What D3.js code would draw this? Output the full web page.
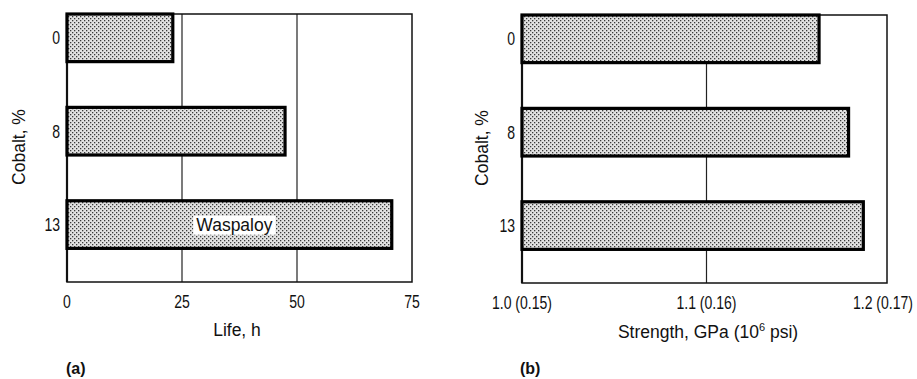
<!DOCTYPE html>
<html><head><meta charset="utf-8">
<script src="https://cdn.jsdelivr.net/npm/d3@7"></script>
<style>
html,body{margin:0;padding:0;background:#fff;}
svg{display:block;}
.tick-lbl{font-family:"Liberation Sans",Arial,Helvetica,sans-serif;font-size:18px;fill:#111;}
.title{font-family:"Liberation Sans",Arial,Helvetica,sans-serif;font-size:17.5px;fill:#111;}
.panel{font-family:"Liberation Sans",Arial,sans-serif;font-size:16px;font-weight:bold;fill:#111;}
</style></head>
<body>
<svg id="chart" width="917" height="379"></svg>
<script>
// ---- data ----
const categories = ["0", "8", "13"];
const lifeHours = [23.0, 47.4, 70.6];
const strengthGPa = [1.161, 1.177, 1.185];
const lifeTicks = [0, 25, 50, 75];
const lifeGrid = [25, 50];
const strengthTicks = [1.0, 1.1, 1.2];
const strengthTickLabels = ["1.0 (0.15)", "1.1 (0.16)", "1.2 (0.17)"];
const strengthGrid = [1.1];
const yTitle = "Cobalt, %";
const lifeTitle = "Life, h";
const barNote = "Waspaloy";

const W = 917;
const svg = d3.select("#chart");
const defs = svg.append("defs");
const pat = defs.append("pattern").attr("id", "stipple")
  .attr("patternUnits", "userSpaceOnUse").attr("width", 4).attr("height", 4);
pat.append("rect").attr("width", 4).attr("height", 4).attr("fill", "#e2e2e2");
pat.append("rect").attr("x", 0).attr("y", 0).attr("width", 1.3).attr("height", 1.3).attr("fill", "#3a3a3a");
pat.append("rect").attr("x", 2).attr("y", 2).attr("width", 1.3).attr("height", 1.3).attr("fill", "#3a3a3a");

const SX = 0.78; // condensed tick labels

function condensed(sel, ax, ay) {
  sel.attr("transform", (d, i) => `translate(${ax(d, i)},${ay(d, i)}) scale(${SX},1)`);
}

function panel(opt) {
  const g = svg.append("g");
  const x = d3.scaleLinear().domain(opt.domain).range([opt.left, opt.xEnd]);
  const y = d3.scaleBand().domain(categories).range([opt.top, opt.bottom])
    .paddingInner(0.49).paddingOuter(0.18).align(0);

  // gridlines
  g.selectAll("line.grid").data(opt.grid).join("line")
    .attr("x1", d => x(d)).attr("x2", d => x(d))
    .attr("y1", opt.top).attr("y2", opt.bottom)
    .attr("stroke", "#222").attr("stroke-width", 1.2);

  // frame
  g.append("rect").attr("x", opt.left).attr("y", opt.top)
    .attr("width", opt.right - opt.left).attr("height", opt.bottom - opt.top)
    .attr("fill", "none").attr("stroke", "#111").attr("stroke-width", 1.5);
  g.append("line").attr("x1", opt.left).attr("x2", opt.left)
    .attr("y1", opt.top).attr("y2", opt.bottom)
    .attr("stroke", "#111").attr("stroke-width", 2.2);

  // bars
  g.selectAll("rect.bar").data(opt.values).join("rect").attr("class", "bar")
    .attr("x", x(opt.domain[0]))
    .attr("y", (d, i) => y(categories[i]))
    .attr("width", d => x(d) - x(opt.domain[0]))
    .attr("height", y.bandwidth())
    .attr("fill", "url(#stipple)")
    .attr("stroke", "#000").attr("stroke-width", 3.2);

  // y tick labels
  g.selectAll("text.ylbl").data(categories).join("text").attr("class", "tick-lbl")
    .attr("text-anchor", "end").attr("dy", "0.36em").text(d => d)
    .call(condensed, () => opt.left - 7, d => y(d) + y.bandwidth() / 2);

  // x tick labels
  const xl = g.selectAll("text.xlbl").data(opt.ticks).join("text").attr("class", "tick-lbl")
    .attr("text-anchor", "middle").text((d, i) => opt.tickLabels[i]);
  xl.each(function (d) {
    const w = this.getComputedTextLength() * SX;
    const cx = Math.min(x(d), W - 4 - w / 2);
    d3.select(this).attr("transform", `translate(${cx},${opt.bottom + 26}) scale(${SX},1)`);
  });

  // y title
  g.append("text").attr("class", "title")
    .attr("transform", `translate(${opt.yTitleX},${opt.yTitleY}) rotate(-90)`)
    .attr("text-anchor", "middle").text(yTitle);

  return {g, x, y};
}

// panel (a)
const A = panel({
  domain: [0, 75], left: 67, xEnd: 412, right: 412, top: 14, bottom: 282,
  grid: lifeGrid, values: lifeHours, ticks: lifeTicks,
  tickLabels: lifeTicks.map(String), yTitleX: 25, yTitleY: 147
});
A.g.append("text").attr("class", "title").attr("x", 237).attr("y", 336)
  .attr("text-anchor", "middle").text(lifeTitle);
A.g.append("text").attr("class", "panel").attr("x", 66).attr("y", 374).text("(a)");
// Waspaloy label with white box
const wy = A.y("13") + A.y.bandwidth() / 2;
const wx = A.x(lifeHours[2] / 2) + 5;
const wt = A.g.append("text").attr("class", "title").attr("x", wx).attr("y", wy)
  .attr("dy", "0.35em").attr("text-anchor", "middle").attr("font-size", "18px").text(barNote);
const bb = wt.node().getBBox();
A.g.insert("rect", () => wt.node())
  .attr("x", bb.x - 3).attr("y", bb.y + 1).attr("width", bb.width + 6).attr("height", bb.height - 1)
  .attr("fill", "#fff");

// panel (b)
const B = panel({
  domain: [1.0, 1.2], left: 522, xEnd: 891, right: 887, top: 15, bottom: 283,
  grid: strengthGrid, values: strengthGPa, ticks: strengthTicks,
  tickLabels: strengthTickLabels, yTitleX: 488, yTitleY: 148
});
const st = B.g.append("text").attr("class", "title").attr("x", 708).attr("y", 338)
  .attr("text-anchor", "middle");
st.append("tspan").text("Strength, GPa (10");
st.append("tspan").attr("dy", -7).attr("font-size", "11px").text("6");
st.append("tspan").attr("dy", 7).text(" psi)");
B.g.append("text").attr("class", "panel").attr("x", 520).attr("y", 374).text("(b)");
</script>
</body></html>
